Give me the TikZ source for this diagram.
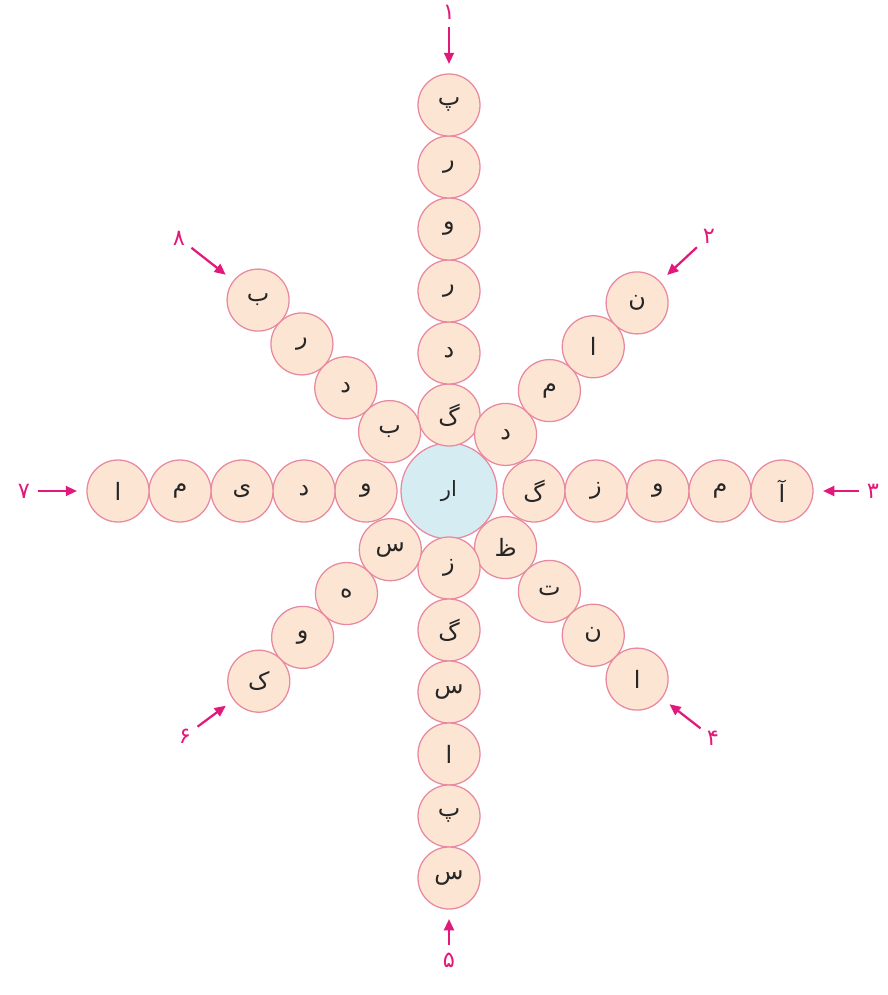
\documentclass[tikz,border=0pt]{standalone}
\usepackage{fontspec}
\usepackage{tikz}
\usetikzlibrary{arrows.meta, positioning}
\newfontfamily\arabicfont[Script=Arabic]{DejaVu Sans}
\TeXXeTstate=1
\definecolor{beadfill}{HTML}{FCE5D2}
\definecolor{beadline}{HTML}{E8899F}
\definecolor{hubfill}{HTML}{D6ECF3}
\definecolor{markpink}{HTML}{E2197B}
\newcommand{\harf}[1]{\beginR #1\endR}

\begin{document}
\begin{tikzpicture}[
  bead/.style={circle, draw=beadline, fill=beadfill, line width=0.9pt, minimum size=1.55cm, inner sep=0pt, outer sep=0pt, text=black!85, font=\fontsize{17}{19}\selectfont\arabicfont},
  hubnode/.style={bead, fill=hubfill, minimum size=2.4cm, font=\fontsize{15}{17}\selectfont\arabicfont},
  num/.style={text=markpink, inner sep=1pt, font=\fontsize{16}{18}\selectfont\arabicfont},
  arrow/.style={-{Triangle[length=8pt,width=7pt]}, line width=1.6pt, draw=markpink, shorten <=0.15cm, shorten >=0.25cm}
]
\useasboundingbox (0,0) rectangle (22.2,-24.875);

\node[hubnode] (hub) at (11.225,-12.275) {\harf{ار}};

\node[bead, above=-0.075cm of hub] (c1a) {\harf{گ}};
\node[bead, above=0pt of c1a] (c1b) {\harf{د}};
\node[bead, above=0pt of c1b] (c1c) {\harf{ر}};
\node[bead, above=0pt of c1c] (c1d) {\harf{و}};
\node[bead, above=0pt of c1d] (c1e) {\harf{ر}};
\node[bead, above=0pt of c1e] (c1f) {\harf{پ}};

\node[bead, above right=0.025cm of hub] (c2a) {\harf{د}};
\node[bead, above right=0pt of c2a] (c2b) {\harf{م}};
\node[bead, above right=0pt of c2b] (c2c) {\harf{ا}};
\node[bead, above right=0pt of c2c] (c2d) {\harf{ن}};

\node[bead, right=0.15cm of hub] (c3a) {\harf{گ}};
\node[bead, right=0pt of c3a] (c3b) {\harf{ز}};
\node[bead, right=0pt of c3b] (c3c) {\harf{و}};
\node[bead, right=0pt of c3c] (c3d) {\harf{م}};
\node[bead, right=0pt of c3d] (c3e) {\harf{آ}};

\node[bead, below right=0.025cm of hub] (c4a) {\harf{ظ}};
\node[bead, below right=0pt of c4a] (c4b) {\harf{ت}};
\node[bead, below right=0pt of c4b] (c4c) {\harf{ن}};
\node[bead, below right=0pt of c4c] (c4d) {\harf{ا}};

\node[bead, below=-0.05cm of hub] (c5a) {\harf{ز}};
\node[bead, below=0pt of c5a] (c5b) {\harf{گ}};
\node[bead, below=0pt of c5b] (c5c) {\harf{س}};
\node[bead, below=0pt of c5c] (c5d) {\harf{ا}};
\node[bead, below=0pt of c5d] (c5e) {\harf{پ}};
\node[bead, below=0pt of c5e] (c5f) {\harf{س}};

\node[bead, below left=0.1cm of hub] (c6a) {\harf{س}};
\node[bead, below left=0pt of c6a] (c6b) {\harf{ه}};
\node[bead, below left=0pt of c6b] (c6c) {\harf{و}};
\node[bead, below left=0pt of c6c] (c6d) {\harf{ک}};

\node[bead, left=0.1cm of hub] (c7a) {\harf{و}};
\node[bead, left=0pt of c7a] (c7b) {\harf{د}};
\node[bead, left=0pt of c7b] (c7c) {\harf{ی}};
\node[bead, left=0pt of c7c] (c7d) {\harf{م}};
\node[bead, left=0pt of c7d] (c7e) {\harf{ا}};

\node[bead, above left=0.125cm of hub] (c8a) {\harf{ب}};
\node[bead, above left=0pt of c8a] (c8b) {\harf{د}};
\node[bead, above left=0pt of c8b] (c8c) {\harf{ر}};
\node[bead, above left=0pt of c8c] (c8d) {\harf{ب}};

\node[num] (n1) at (11.225,-0.3) {۱};
\node[num] (n2) at (17.725,-5.9) {۲};
\node[num] (n3) at (21.825,-12.275) {۳};
\node[num] (n4) at (17.825,-18.45) {۴};
\node[num] (n5) at (11.225,-24.0) {۵};
\node[num] (n6) at (4.625,-18.4) {۶};
\node[num] (n7) at (0.6,-12.275) {۷};
\node[num] (n8) at (4.475,-5.95) {۸};

\draw[arrow] (n1) -- (c1f);
\draw[arrow] (n2) -- (c2d);
\draw[arrow] (n3) -- (c3e);
\draw[arrow] (n4) -- (c4d);
\draw[arrow] (n5) -- (c5f);
\draw[arrow] (n6) -- (c6d);
\draw[arrow] (n7) -- (c7e);
\draw[arrow] (n8) -- (c8d);
\end{tikzpicture}
\end{document}
